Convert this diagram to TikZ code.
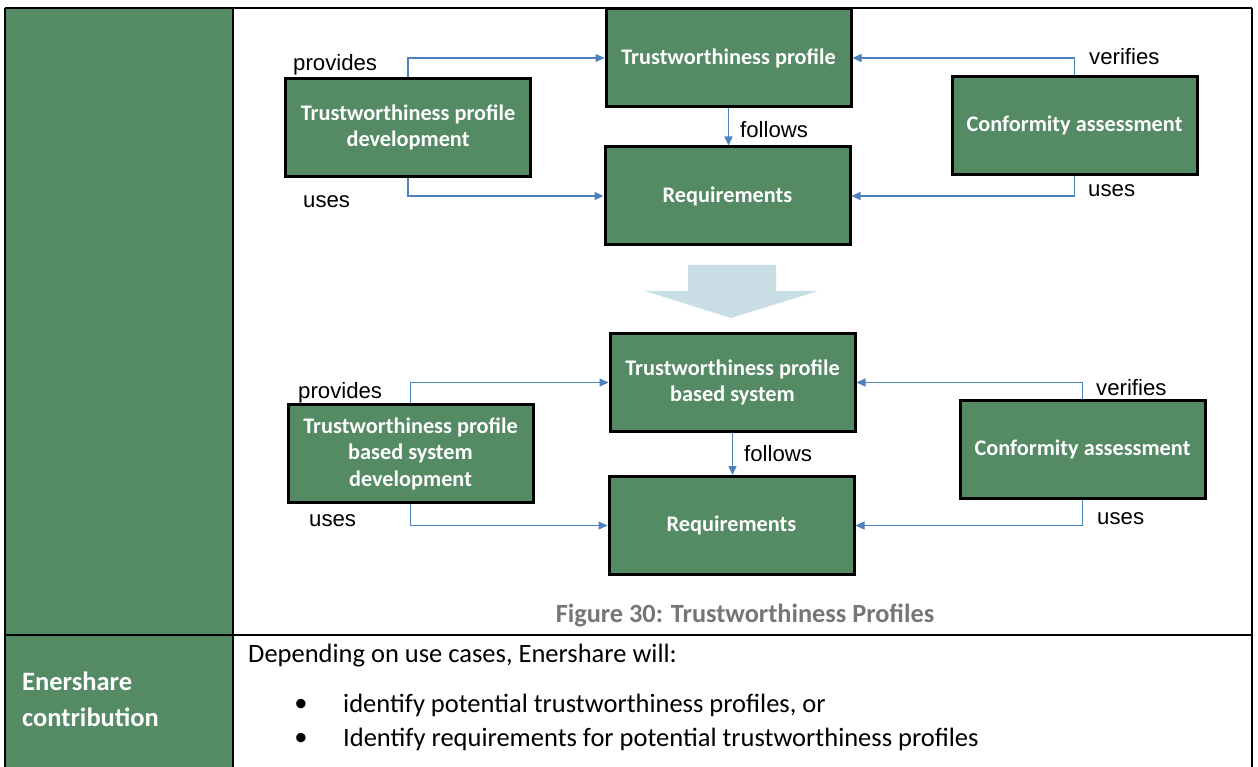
\documentclass[tikz,border=0pt]{standalone}
\usepackage{fontspec}
\setmainfont{Carlito}
\newfontfamily\arialfont{Liberation Sans}
\usetikzlibrary{arrows.meta}
\definecolor{cellgreen}{RGB}{84,138,100}
\definecolor{linkblue}{RGB}{79,129,189}
\definecolor{bigarrow}{RGB}{201,221,229}
\definecolor{captiongray}{RGB}{118,118,118}
\begin{document}
\begin{tikzpicture}[x=1pt,y=-1pt,
  box/.style={draw=black,line width=3pt,fill=cellgreen,minimum width=245pt,
    minimum height=98pt,inner sep=0pt,align=center,text=white,
    font=\fontsize{22.3}{26.5}\selectfont\bfseries},
  lbl/.style={font=\arialfont\fontsize{22.2}{25}\selectfont,inner sep=0pt,anchor=base west},
  link/.style={draw=linkblue,line width=1.3pt,-{Triangle[length=9pt,width=8pt]}},
  grid/.style={draw=black,line width=1.5pt},
  celltext/.style={inner sep=0pt,anchor=base west,font=\fontsize{26.5}{30}\selectfont},
  headtext/.style={inner sep=0pt,anchor=base west,text=white,font=\fontsize{26.5}{30}\selectfont\bfseries},
]
\useasboundingbox (0,0) rectangle (1258,767);
\fill[white] (0,0) rectangle (1258,767);

% table: green header column and rules
\fill[cellgreen] (5,8) rectangle (233,767);
\draw[grid] (5,8) -- (1252,8);
\draw[grid] (5,8) -- (5,767);
\draw[grid] (233,8) -- (233,767);
\draw[grid] (1252,8) -- (1252,767);
\draw[grid] (5,635) -- (1252,635);

% upper diagram
\node[box] (tp)  at (728.5,58)  {Trustworthiness profile};
\node[box] (tpd) at (408,127.5) {Trustworthiness profile\\development};
\node[box] (req) at (727.5,196) {Requirements};
\node[box] (ca)  at (1074.5,125.5) {Conformity assessment};

\draw[link] (tpd.north) |- (tp.west);
\draw[link] (tpd.south) |- (req.west);
\draw[link] (ca.north) |- (tp.east);
\draw[link] (ca.south) |- (req.east);
\draw[link] (tp.south) -- (tp.south |- req.north);

\node[lbl] (lprov1) at (293,71)  {provides};
\node[lbl] (luse1)  at (303,208) {uses};
\node[lbl] (lver1)  at (1089,65) {verifies};
\node[lbl] (luse2)  at (1088,197) {uses};
\node[lbl] (lfol1)  at (740,138) {follows};

% transition arrow
\fill[bigarrow] (688,265) -- (776,265) -- (776,291) -- (818,291) -- (731,318)
  -- (645,291) -- (688,291) -- cycle;

% lower diagram
\node[box] (tps)  at (732.5,382.5) {Trustworthiness profile\\based system};
\node[box] (tpsd) at (410.5,453.5) {Trustworthiness profile\\based system\\development};
\node[box] (req2) at (731.5,525.5) {Requirements};
\node[box] (ca2)  at (1082.5,449)  {Conformity assessment};

\draw[link] (tpsd.north) |- (tps.west);
\draw[link] (tpsd.south) |- (req2.west);
\draw[link] (ca2.north) |- (tps.east);
\draw[link] (ca2.south) |- (req2.east);
\draw[link] (tps.south) -- (tps.south |- req2.north);

\node[lbl] (lprov2) at (298,398) {provides};
\node[lbl] (luse3)  at (309,526) {uses};
\node[lbl] (lver2)  at (1096,395) {verifies};
\node[lbl] (luse4)  at (1097,524) {uses};
\node[lbl] (lfol2)  at (744,461) {follows};

% caption
\node[inner sep=0pt,anchor=base,text=captiongray,font=\fontsize{26.3}{30}\selectfont\bfseries]
  (cap) at (745,622) {Figure 30: Trustworthiness Profiles};

% lower table row
\node[headtext] (h1) at (22,690) {Enershare};
\node[headtext] (h2) at (22,726) {contribution};
\node[celltext] (t0) at (248,662) {Depending on use cases, Enershare will:};
\node[celltext,anchor=center] (b1) at (301,705) {•};
\node[celltext] (t1) at (343,712) {identify potential trustworthiness profiles, or};
\node[celltext,anchor=center] (b2) at (301,739) {•};
\node[celltext] (t2) at (343,746) {Identify requirements for potential trustworthiness profiles};
\end{tikzpicture}
\end{document}
